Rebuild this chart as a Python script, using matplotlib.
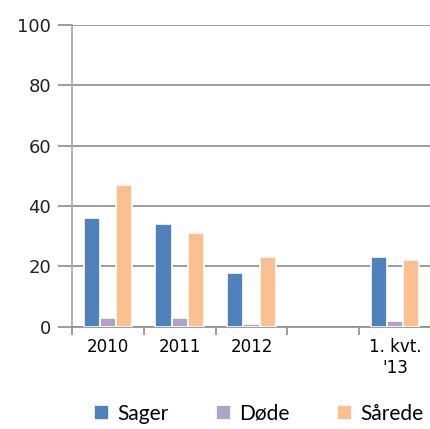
import numpy as np
import matplotlib
matplotlib.use("Agg")
import matplotlib.pyplot as plt

kategorier = ["2010", "2011", "2012", "", "1. kvt.\n'13"]
sager = [36, 34, 18, 0, 23]
doede = [3, 3, 1, 0, 2]
saarede = [47, 31, 23, 0, 22]

farver = ["#4F81BD", "#B3A2C7", "#FAC090"]
navne = ["Sager", "Døde", "Sårede"]

fig = plt.figure(figsize=(4.31, 4.29), dpi=100)
ax = fig.add_axes([0.167, 0.238, 0.833, 0.704])

x = np.arange(len(kategorier))
w = 0.225
mask = np.array([k != "" for k in kategorier])  # tom kategori springes over
for i, (serie, farve, navn) in enumerate(zip([sager, doede, saarede], farver, navne)):
    vals = np.array(serie, dtype=float)
    ax.bar(x[mask] + (i - 1) * 0.225, vals[mask], width=w, color=farve,
           edgecolor="white", linewidth=1.2, label=navn, zorder=3)

ax.set_xlim(-0.5, len(kategorier) - 0.5)
ax.set_ylim(0, 100)
ax.set_yticks([0, 20, 40, 60, 80, 100])
ax.yaxis.grid(True, color="#8c8c8c", linewidth=1.2, zorder=0)
ax.tick_params(axis="y", length=10, width=1.2, color="#8c8c8c", labelsize=13,
               pad=5, labelcolor="#222222")

ax.set_xticks(x)
ax.set_xticklabels(kategorier, fontsize=12)
ax.set_xticks(np.arange(-0.5, len(kategorier)), minor=True)
ax.tick_params(axis="x", which="major", length=0, pad=8, labelsize=12)
ax.tick_params(axis="x", which="minor", length=6, width=1.2, color="#8c8c8c")

for s in ["top", "right"]:
    ax.spines[s].set_visible(False)
ax.spines["left"].set_color("#a6a6a6")
ax.spines["left"].set_linewidth(1.2)
ax.spines["bottom"].set_color("#8c8c8c")
ax.spines["bottom"].set_linewidth(1.2)

fig.legend(loc="lower center", bbox_to_anchor=(0.6, -0.032), ncol=3, frameon=False,
           handlelength=0.7, handleheight=0.7, columnspacing=2.3,
           handletextpad=0.4, prop={"family": "Lato", "size": 15})

fig.savefig("out.png", dpi=100)
